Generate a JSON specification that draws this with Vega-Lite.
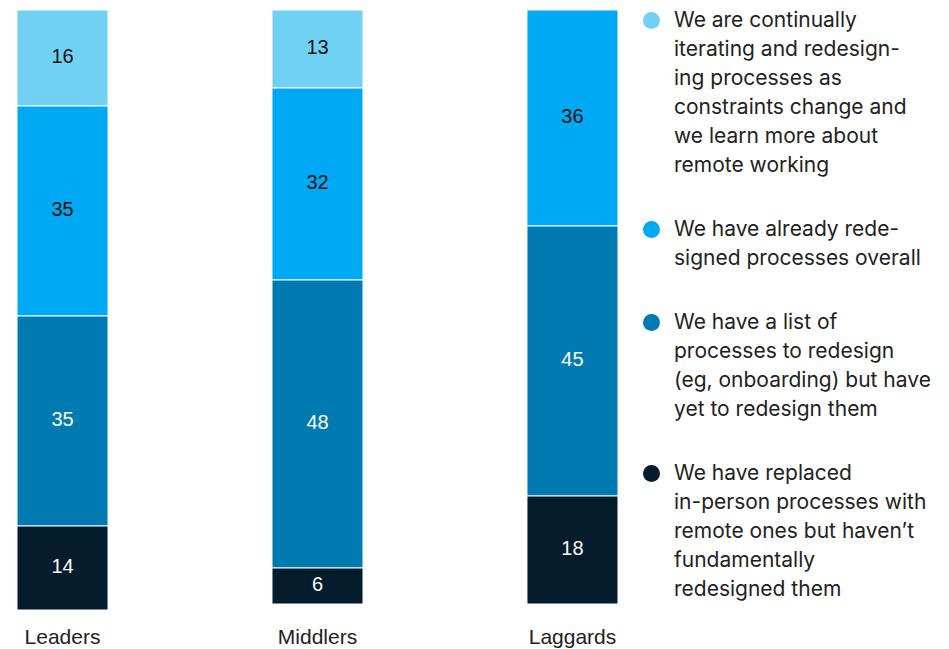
{
  "$schema": "https://vega.github.io/schema/vega-lite/v6.json",
  "width": 635,
  "height": 600,
  "padding": {"left": 0, "top": 9, "right": 5, "bottom": 5},
  "autosize": {"type": "pad"},
  "config": {
    "view": {"stroke": null},
    "font": "Liberation Sans",
    "style": {"guide-label": {"lineHeight": 29}}
  },
  "data": {
    "values": [
      {"group": "Leaders", "category": "We are continually\niterating and redesign-\ning processes as\nconstraints change and\nwe learn more about\nremote working", "rank": 1, "value": 16},
      {"group": "Leaders", "category": "We have already rede-\nsigned processes overall", "rank": 2, "value": 35},
      {"group": "Leaders", "category": "We have a list of\nprocesses to redesign\n(eg, onboarding) but have\nyet to redesign them", "rank": 3, "value": 35},
      {"group": "Leaders", "category": "We have replaced\nin-person processes with\nremote ones but haven’t\nfundamentally\nredesigned them", "rank": 4, "value": 14},
      {"group": "Middlers", "category": "We are continually\niterating and redesign-\ning processes as\nconstraints change and\nwe learn more about\nremote working", "rank": 1, "value": 13},
      {"group": "Middlers", "category": "We have already rede-\nsigned processes overall", "rank": 2, "value": 32},
      {"group": "Middlers", "category": "We have a list of\nprocesses to redesign\n(eg, onboarding) but have\nyet to redesign them", "rank": 3, "value": 48},
      {"group": "Middlers", "category": "We have replaced\nin-person processes with\nremote ones but haven’t\nfundamentally\nredesigned them", "rank": 4, "value": 6},
      {"group": "Laggards", "category": "We have already rede-\nsigned processes overall", "rank": 2, "value": 36},
      {"group": "Laggards", "category": "We have a list of\nprocesses to redesign\n(eg, onboarding) but have\nyet to redesign them", "rank": 3, "value": 45},
      {"group": "Laggards", "category": "We have replaced\nin-person processes with\nremote ones but haven’t\nfundamentally\nredesigned them", "rank": 4, "value": 18}
    ]
  },
  "transform": [
    {"stack": "value", "groupby": ["group"], "sort": [{"field": "rank", "order": "ascending"}], "as": ["v0", "v1"]},
    {"calculate": "(datum.v0 + datum.v1) / 2", "as": "mid"}
  ],
  "encoding": {
    "x": {
      "field": "group",
      "type": "nominal",
      "sort": ["Leaders", "Middlers", "Laggards"],
      "scale": {"paddingInner": 0.643, "paddingOuter": 0.0667},
      "axis": {
        "title": null,
        "domain": false,
        "ticks": false,
        "labelAngle": 0,
        "labelFontSize": 21,
        "labelPadding": 16,
        "labelColor": "#222222",
        "labelFont": "Liberation Sans"
      }
    }
  },
  "layer": [
    {
      "mark": {"type": "bar", "stroke": "white", "strokeWidth": 1},
      "encoding": {
        "y": {"field": "v0", "type": "quantitative", "scale": {"domain": [0, 100], "reverse": true}, "axis": null},
        "y2": {"field": "v1"},
        "color": {
          "field": "category",
          "type": "nominal",
          "scale": {
            "domain": [
              "We are continually\niterating and redesign-\ning processes as\nconstraints change and\nwe learn more about\nremote working",
              "We have already rede-\nsigned processes overall",
              "We have a list of\nprocesses to redesign\n(eg, onboarding) but have\nyet to redesign them",
              "We have replaced\nin-person processes with\nremote ones but haven’t\nfundamentally\nredesigned them"
            ],
            "range": ["#71D1F3", "#00A9F4", "#007AB0", "#051C2C"]
          },
          "legend": {
            "title": null,
            "orient": "right",
            "offset": 6,
            "padding": 0,
            "symbolType": "circle",
            "symbolSize": 289,
            "symbolStrokeWidth": 0,
            "labelExpr": "split(datum.label, '\\n')",
            "labelFont": "Inter",
            "labelFontSize": 21,
            "labelColor": "#222222",
            "labelOffset": 12,
            "labelLimit": 400,
            "rowPadding": 42
          }
        }
      }
    },
    {
      "mark": {"type": "text", "fontSize": 20, "font": "Liberation Sans", "dy": -1},
      "encoding": {
        "y": {"field": "mid", "type": "quantitative"},
        "text": {"field": "value", "type": "quantitative"},
        "color": {"condition": {"test": "datum.rank <= 2", "value": "#111111"}, "value": "#ffffff"}
      }
    }
  ]
}
